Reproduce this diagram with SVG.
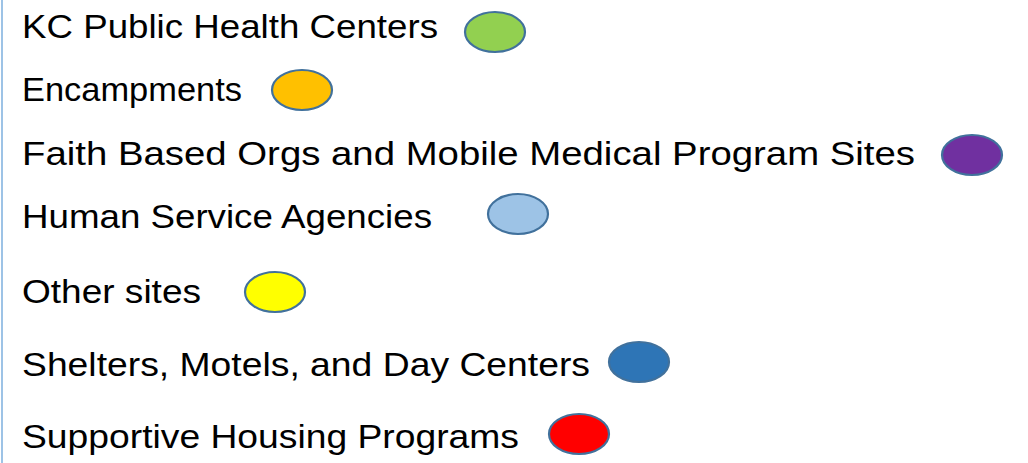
<svg xmlns="http://www.w3.org/2000/svg" width="1028" height="463" viewBox="0 0 1028 463">
<style>
.t{font-family:"Liberation Sans",Arial,sans-serif;font-size:33px;fill:#000}
.e{stroke:#41719C;stroke-width:2.2}
</style>
<rect x="0" y="0" width="1028" height="463" fill="#fff"/>
<line x1="2" y1="0" x2="2" y2="463" stroke="#9DC3E6" stroke-width="2"/>
<g id="kc"><text class="t" x="22" y="37.5" textLength="416" lengthAdjust="spacingAndGlyphs">KC Public Health Centers</text><ellipse class="e" cx="495" cy="32" rx="30" ry="20" fill="#92D050"/></g>
<g id="enc"><text class="t" x="22" y="101" textLength="220" lengthAdjust="spacingAndGlyphs">Encampments</text><ellipse class="e" cx="302" cy="90" rx="30" ry="20" fill="#FFC000"/></g>
<g id="faith"><text class="t" x="22" y="165" textLength="893" lengthAdjust="spacingAndGlyphs">Faith Based Orgs and Mobile Medical Program Sites</text><ellipse class="e" cx="972" cy="155" rx="30" ry="20" fill="#7030A0"/></g>
<g id="hsa"><text class="t" x="22" y="228" textLength="410" lengthAdjust="spacingAndGlyphs">Human Service Agencies</text><ellipse class="e" cx="518" cy="214" rx="30" ry="20" fill="#9DC3E6"/></g>
<g id="other"><text class="t" x="22" y="303" textLength="179" lengthAdjust="spacingAndGlyphs">Other sites</text><ellipse class="e" cx="275" cy="292" rx="30" ry="20" fill="#FFFF00"/></g>
<g id="shelters"><text class="t" x="22" y="375.5" textLength="568" lengthAdjust="spacingAndGlyphs">Shelters, Motels, and Day Centers</text><ellipse class="e" cx="639" cy="362" rx="30" ry="20" fill="#2E75B6"/></g>
<g id="supportive"><text class="t" x="22" y="447.5" textLength="497" lengthAdjust="spacingAndGlyphs">Supportive Housing Programs</text><ellipse class="e" cx="579" cy="434" rx="30" ry="20" fill="#FF0000"/></g>
</svg>
